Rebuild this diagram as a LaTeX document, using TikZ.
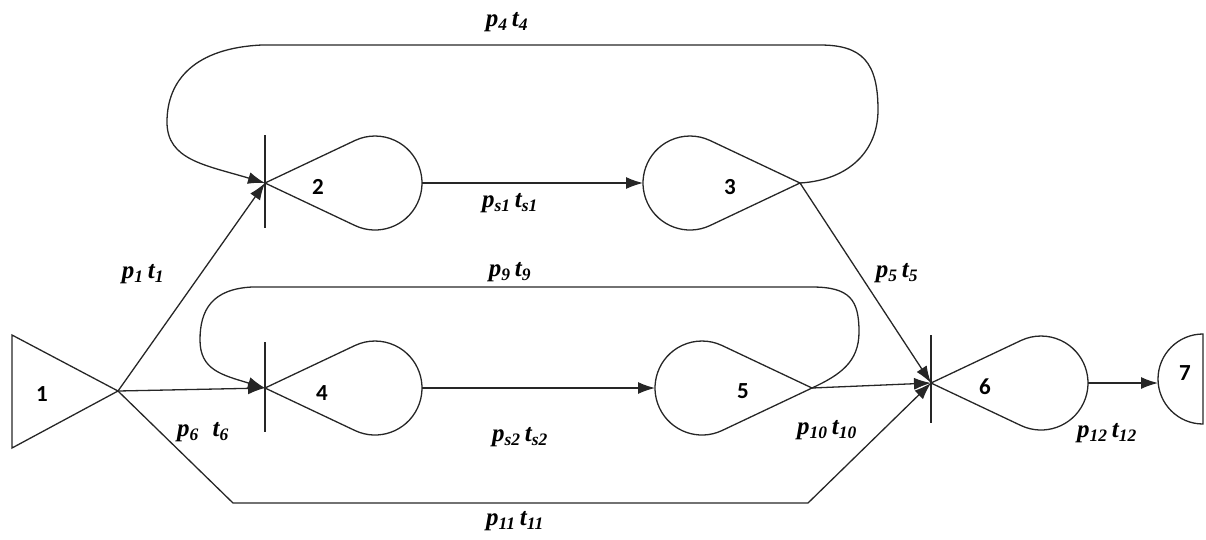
\documentclass[tikz,border=0pt]{standalone}
\usepackage{fontspec}
\setmainfont{Liberation Serif}
\newfontfamily\numfont{Carlito}
\usetikzlibrary{arrows.meta}
\newcommand\plbl[2]{p\textsubscript{#1}\,t\textsubscript{#2}}
\tikzset{
  ln/.style={line width=1.3pt, draw=black!85},
  arr/.style={ln, -{Latex[length=17pt,width=12pt]}},
  num/.style={font=\numfont\bfseries\fontsize{23}{26}\selectfont, inner sep=0},
  lab/.style={font=\fontsize{25}{27}\selectfont\bfseries\itshape, inner sep=0},
}
\begin{document}
\begin{tikzpicture}[x=1pt,y=-1pt]
\useasboundingbox (0,0) rectangle (1206,539);
% apex / port coordinates
\coordinate (a1) at (118,391);
\coordinate (a2) at (265,183);
\coordinate (o2) at (422,183);
\coordinate (i3) at (643,183);
\coordinate (a3) at (800,183);
\coordinate (a4) at (265,388);
\coordinate (o4) at (422,388);
\coordinate (i5) at (655,388);
\coordinate (a5) at (812,388);
\coordinate (a6) at (931,383);
\coordinate (o6) at (1088,383);
\coordinate (i7) at (1158,383);
\coordinate (b1) at (233,503);
\coordinate (b2) at (808,503);
% node 1 triangle
\draw[ln] (12,335) -- (a1) -- (12,448) -- cycle;
% teardrops, apex left
\draw[ln] (a2) -- ++(25.3:99.45) arc[start angle=115.3,end angle=-115.3,radius=47] -- cycle;
\draw[ln] (a4) -- ++(25.3:99.45) arc[start angle=115.3,end angle=-115.3,radius=47] -- cycle;
\draw[ln] (a6) -- ++(25.3:99.45) arc[start angle=115.3,end angle=-115.3,radius=47] -- cycle;
% teardrops, apex right
\draw[ln] (a3) -- ++(154.7:99.45) arc[start angle=64.7,end angle=295.3,radius=47] -- cycle;
\draw[ln] (a5) -- ++(154.7:99.45) arc[start angle=64.7,end angle=295.3,radius=47] -- cycle;
% node 7 half disc
\draw[ln] (1203,334) arc[start angle=270,end angle=90,radius=45] -- cycle;
% bars
\path (a2) ++(0,-48) coordinate (t2) (a2) ++(0,45) coordinate (u2);
\path (a4) ++(0,-46) coordinate (t4) (a4) ++(0,44) coordinate (u4);
\path (a6) ++(0,-48) coordinate (t6) (a6) ++(0,40) coordinate (u6);
\draw[ln] (t2) -- (u2);
\draw[ln] (t4) -- (u4);
\draw[ln] (t6) -- (u6);
% numbers
\node[num] (n1) at (42,394) {1};
\node[num] (n2) at (318,187) {2};
\node[num] (n3) at (730,187) {3};
\node[num] (n4) at (322,393) {4};
\node[num] (n5) at (743,391) {5};
\node[num] (n6) at (985,387) {6};
\node[num] (n7) at (1185,373) {7};
% connectors
\draw[arr] (a1) -- (a2);
\draw[arr] (a1) -- (a4);
\draw[arr] (o2) -- (i3);
\draw[arr] (o4) -- (i5);
\draw[arr] (a3) -- (a6);
\draw[arr] (a5) -- (a6);
\draw[arr] (a1) -- (b1) -- (b2) -- (a6);
\draw[arr] (o6) -- (i7);
\draw[arr] (a3) .. controls (850,180) and (878,150) .. (878,110)
  .. controls (878,62) and (862,45) .. (820,45) -- (262,45)
  .. controls (195,48) and (167,80) .. (167,122)
  .. controls (167,160) and (205,165) .. (a2);
\draw[arr] (a5) .. controls (840,375) and (859,362) .. (859,332)
  .. controls (859,300) and (850,287) .. (812,287) -- (252,287)
  .. controls (212,289) and (200,310) .. (200,340)
  .. controls (200,370) and (222,375) .. (a4);
% labels
\node[lab] (l4) at (507,22) {\plbl{4}{4}};
\node[lab] (ls1) at (510,203) {\plbl{s1}{s1}};
\node[lab] (l1) at (143,274) {\plbl{1}{1}};
\node[lab] (l9) at (510,272) {\plbl{9}{9}};
\node[lab] (l5) at (897,273) {\plbl{5}{5}};
\node[lab] (l6) at (203,432) {p\textsubscript{6}\;\;t\textsubscript{6}};
\node[lab] (ls2) at (520,437) {\plbl{s2}{s2}};
\node[lab] (l10) at (827,430) {\plbl{10}{10}};
\node[lab] (l12) at (1107,433) {\plbl{12}{12}};
\node[lab] (l11) at (515,521) {\plbl{11}{11}};
\end{tikzpicture}
\end{document}
